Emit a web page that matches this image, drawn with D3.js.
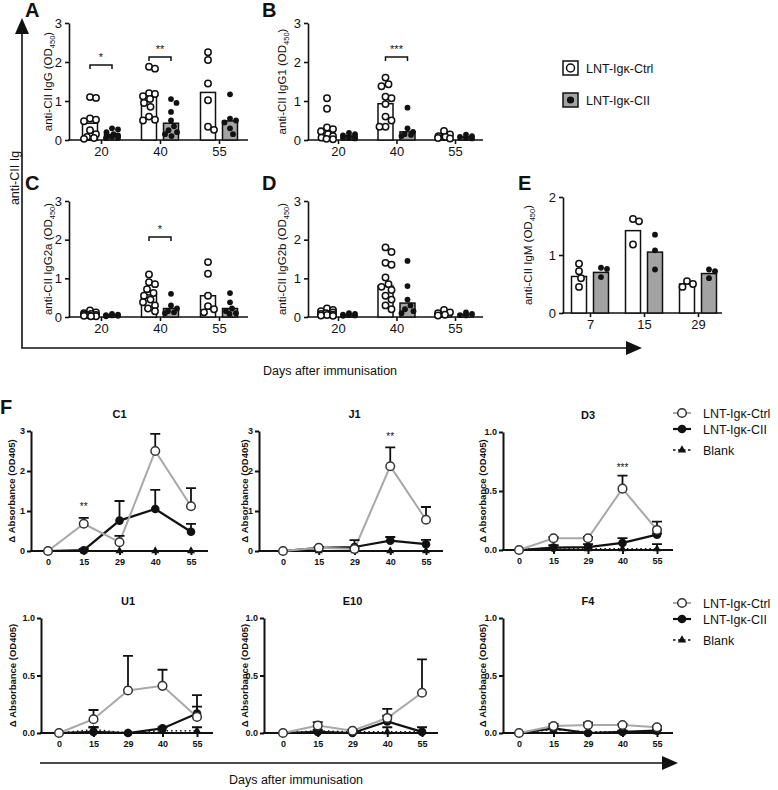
<!DOCTYPE html>
<html><head><meta charset="utf-8">
<script src="https://cdn.jsdelivr.net/npm/d3@7"></script>
<style>
body{margin:0;background:#fff}
svg{display:block}
text{font-family:Arial,"Liberation Sans",sans-serif;fill:#111}
</style>
</head><body>
<svg id="c" width="778" height="790"></svg>
<script>
// ---------------- DATA ----------------
const groupsIg = ["20", "40", "55"];
const groupsIgM = ["7", "15", "29"];

const A_ctrlBars = [0.43, 1.11, 1.22];
const A_ciiBars = [0.14, 0.43, 0.49];
const A_ctrlPts = [[1.10,1.08,0.55,0.52,0.48,0.25,0.15,0.08,0.05,0.03],[1.88,1.83,1.20,1.18,1.12,1.05,0.95,0.85,0.60,0.52,0.50],[2.25,2.05,1.45,1.02,0.34,0.26]];
const A_ciiPts = [[0.30,0.27,0.20,0.15,0.12,0.10,0.08,0.06,0.05],[1.05,0.95,0.72,0.50,0.35,0.25,0.20,0.15,0.10],[1.17,0.55,0.50,0.45,0.30,0.15]];
const A_sig = [{g:"20", y:1.92, label:"*"}, {g:"40", y:2.13, label:"**"}];

const B_ctrlBars = [0.30, 0.93, 0.11];
const B_ciiBars = [0.10, 0.21, 0.08];
const B_ctrlPts = [[1.07,0.80,0.32,0.28,0.22,0.15,0.10,0.06,0.03,0.02],[1.60,1.43,1.38,1.11,1.07,0.92,0.60,0.50,0.34,0.34],[0.23,0.14,0.10,0.08,0.05,0.04]];
const B_ciiPts = [[0.18,0.15,0.12,0.10,0.08,0.06,0.05,0.04],[0.83,0.30,0.21,0.15,0.13,0.10],[0.14,0.10,0.08,0.05,0.04]];
const B_sig = [{g:"40", y:2.13, label:"***"}];

const C_ctrlBars = [0.07, 0.57, 0.55];
const C_ciiBars = [0.05, 0.22, 0.22];
const C_ctrlPts = [[0.17,0.12,0.10,0.08,0.06,0.05,0.04,0.03,0.02,0.02],[1.10,0.90,0.85,0.72,0.62,0.55,0.45,0.38,0.30,0.22,0.15],[1.42,1.12,0.55,0.28,0.20,0.12]];
const C_ciiPts = [[0.08,0.06,0.05,0.04,0.03,0.02],[0.60,0.30,0.22,0.15,0.12,0.10],[0.62,0.38,0.22,0.15,0.10,0.08]];
const C_sig = [{g:"40", y:2.07, label:"*"}];

const D_ctrlBars = [0.12, 0.80, 0.10];
const D_ciiBars = [0.06, 0.36, 0.07];
const D_ctrlPts = [[0.22,0.18,0.15,0.12,0.10,0.08,0.06,0.05,0.04,0.03],[1.80,1.68,1.40,1.35,1.02,0.85,0.78,0.70,0.55,0.45,0.30,0.20],[0.18,0.12,0.10,0.06,0.04]];
const D_ciiPts = [[0.10,0.08,0.06,0.05,0.04,0.03],[1.45,0.80,0.45,0.30,0.20,0.15,0.10],[0.12,0.08,0.05,0.04]];
const D_sig = [];

const E_ctrlBars = [0.63, 1.42, 0.50];
const E_ciiBars = [0.70, 1.05, 0.68];
const E_ctrlPts = [[0.85,0.72,0.60,0.45],[1.62,1.58,1.18],[0.55,0.50,0.45]];
const E_ciiPts = [[0.78,0.76,0.62],[1.35,1.08,0.75],[0.75,0.72,0.60]];
const E_sig = [];

const days = ["0", "15", "29", "40", "55"];

const C1_ctrl = [0, 0.68, 0.22, 2.50, 1.12];
const C1_ctrlErr = [0, 0.15, 0.16, 0.43, 0.45];
const C1_cii = [0, 0.02, 0.76, 1.05, 0.48];
const C1_ciiErr = [0, 0.03, 0.49, 0.48, 0.20];
const C1_blank = [0, 0, 0, 0, 0];
const C1_blankErr = [0, 0, 0, 0, 0];
const C1_sig = [{d:"15", y:1.12, label:"**"}];

const J1_ctrl = [0, 0.08, 0.05, 2.12, 0.78];
const J1_ctrlErr = [0, 0.02, 0.02, 0.47, 0.32];
const J1_cii = [0, 0.08, 0.10, 0.26, 0.17];
const J1_ciiErr = [0, 0.02, 0.17, 0.09, 0.11];
const J1_blank = [0, 0, 0, 0, 0];
const J1_blankErr = [0, 0, 0, 0, 0];
const J1_sig = [{d:"40", y:2.88, label:"**"}];

const D3_ctrl = [0, 0.10, 0.10, 0.52, 0.17];
const D3_ctrlErr = [0, 0.01, 0.01, 0.11, 0.07];
const D3_cii = [0, 0.02, 0.025, 0.06, 0.13];
const D3_ciiErr = [0, 0.02, 0.025, 0.04, 0.01];
const D3_blank = [0, 0.02, 0.01, 0.01, 0.01];
const D3_blankErr = [0, 0.02, 0, 0, 0.04];
const D3_sig = [{d:"40", y:0.70, label:"***"}];

const U1_ctrl = [0, 0.12, 0.37, 0.41, 0.14];
const U1_ctrlErr = [0, 0.08, 0.30, 0.14, 0.09];
const U1_cii = [0, 0.01, 0, 0.04, 0.17];
const U1_ciiErr = [0, 0.04, 0, 0.01, 0.16];
const U1_blank = [0, 0.03, 0, 0.02, 0.02];
const U1_blankErr = [0, 0.02, 0, 0, 0.03];
const U1_sig = [];

const E10_ctrl = [0, 0.065, 0.02, 0.13, 0.35];
const E10_ctrlErr = [0, 0.03, 0.01, 0.08, 0.29];
const E10_cii = [0, 0.01, 0, 0.10, 0.01];
const E10_ciiErr = [0, 0.01, 0, 0.05, 0.04];
const E10_blank = [0, 0.02, 0.01, 0.01, 0.01];
const E10_blankErr = [0, 0.01, 0, 0.04, 0];
const E10_sig = [];

const F4_ctrl = [0, 0.06, 0.07, 0.07, 0.05];
const F4_ctrlErr = [0, 0.02, 0.02, 0.01, 0.01];
const F4_cii = [0, 0.04, 0, 0.01, 0.02];
const F4_ciiErr = [0, 0.02, 0, 0.01, 0.01];
const F4_blank = [0, 0.03, 0.01, 0.01, 0.01];
const F4_blankErr = [0, 0.01, 0, 0.01, 0.02];
const F4_sig = [];

const seriesNames = ["LNT-Igκ-Ctrl", "LNT-Igκ-CII", "Blank"];

// ---------------- DRAWING ----------------
const svg = d3.select("#c");
svg.append("rect").attr("width", 778).attr("height", 790).attr("fill", "#fff");

const GRAY = "#a3a3a3";
const LINEGRAY = "#a8a8a8";

function dodge(vals, y, r, maxOff) {
  const pts = vals.map(v => ({v, y: y(v)})).sort((a, b) => b.v - a.v);
  const placed = [];
  const offs = [0];
  for (let k = 1; k * 0.5 <= maxOff; k++) offs.push(k * 0.5, -k * 0.5);
  for (const p of pts) {
    let best = 0, bestOv = Infinity;
    for (const o of offs) {
      let ov = 0;
      for (const q of placed) {
        const d = Math.hypot(q.x - o, q.y - p.y);
        if (d < 2 * r) ov += 2 * r - d;
      }
      if (ov === 0) { best = o; bestOv = 0; break; }
      if (ov < bestOv) { bestOv = ov; best = o; }
    }
    p.x = best;
    placed.push(p);
  }
  return pts;
}

function barPanel(cfg) {
  const g = svg.append("g");
  const y = d3.scaleLinear().domain([0, cfg.ymax]).range([cfg.yb, cfg.yt]);
  const x = d3.scalePoint().domain(cfg.groups).range([cfg.cx0, cfg.cx1]);
  // letter
  g.append("text").attr("x", cfg.lx).attr("y", cfg.ly).attr("font-size", 20).attr("font-weight", "bold").text(cfg.letter);
  // y label
  const yl = g.append("text").attr("transform", `translate(${cfg.ylabX},${(cfg.yt + cfg.yb) / 2}) rotate(-90)`)
    .attr("text-anchor", "middle").attr("font-size", 11.5);
  yl.append("tspan").text(cfg.ylab + " (OD");
  yl.append("tspan").attr("font-size", 7.5).attr("dy", 3).text("450");
  yl.append("tspan").attr("dy", -3).text(")");
  // y axis
  const ya = g.append("g").attr("transform", `translate(${cfg.axisX},0)`)
    .call(d3.axisLeft(y).tickValues(cfg.ticks).tickFormat(d3.format("d")).tickSize(4).tickSizeOuter(0).tickPadding(3));
  ya.selectAll("path,line").attr("stroke", "#111").attr("stroke-width", 1.6);
  ya.selectAll("text").attr("font-size", 13).attr("fill", "#111").attr("font-family", "Arial, Liberation Sans, sans-serif");
  // x axis
  g.append("line").attr("x1", cfg.axisX - 0.8).attr("x2", cfg.xEnd).attr("y1", cfg.yb).attr("y2", cfg.yb).attr("stroke", "#111").attr("stroke-width", 1.6);
  const xa = g.append("g").attr("transform", `translate(0,${cfg.yb})`)
    .call(d3.axisBottom(x).tickSize(4).tickSizeOuter(0).tickPadding(3));
  xa.select(".domain").remove();
  xa.selectAll("line").attr("stroke", "#111").attr("stroke-width", 1.6);
  xa.selectAll("text").attr("font-size", 13).attr("fill", "#111").attr("font-family", "Arial, Liberation Sans, sans-serif");
  const bw = 15, off = 11;
  // bars
  cfg.groups.forEach((grp, i) => {
    const c = x(grp);
    g.append("rect").attr("x", c - off - bw / 2).attr("width", bw)
      .attr("y", y(cfg.ctrlBars[i])).attr("height", cfg.yb - y(cfg.ctrlBars[i]))
      .attr("fill", "#fff").attr("stroke", "#111").attr("stroke-width", 1.5);
    g.append("rect").attr("x", c + off - bw / 2).attr("width", bw)
      .attr("y", y(cfg.ciiBars[i])).attr("height", cfg.yb - y(cfg.ciiBars[i]))
      .attr("fill", GRAY).attr("stroke", "#111").attr("stroke-width", 1.5);
    dodge(cfg.ctrlPts[i], y, 3.6, 6).forEach(p => {
      g.append("circle").attr("cx", c - off + p.x).attr("cy", p.y).attr("r", 3.2)
        .attr("fill", "#fff").attr("stroke", "#111").attr("stroke-width", 1.5);
    });
    dodge(cfg.ciiPts[i], y, 3.2, 6).forEach(p => {
      g.append("circle").attr("cx", c + off + p.x).attr("cy", p.y).attr("r", 2.9).attr("fill", "#111");
    });
  });
  // significance
  cfg.sig.forEach(s => {
    const c = x(s.g), yy = y(s.y);
    g.append("path").attr("d", `M${c - off},${yy + 4}V${yy}H${c + off}V${yy + 4}`)
      .attr("fill", "none").attr("stroke", "#111").attr("stroke-width", 1.5);
    g.append("text").attr("x", c).attr("y", yy - 4).attr("text-anchor", "middle").attr("font-size", 11).text(s.label);
  });
}

barPanel({letter:"A", lx:25, ly:17, ylab:"anti-CII IgG", ylabX:52, axisX:69, xEnd:248, yt:23, yb:140, ymax:3, ticks:[0,1,2,3],
  groups:groupsIg, cx0:101, cx1:219, ctrlBars:A_ctrlBars, ciiBars:A_ciiBars, ctrlPts:A_ctrlPts, ciiPts:A_ciiPts, sig:A_sig});
barPanel({letter:"B", lx:262, ly:17, ylab:"anti-CII IgG1", ylabX:286, axisX:308, xEnd:483, yt:23, yb:140, ymax:3, ticks:[0,1,2,3],
  groups:groupsIg, cx0:338, cx1:455, ctrlBars:B_ctrlBars, ciiBars:B_ciiBars, ctrlPts:B_ctrlPts, ciiPts:B_ciiPts, sig:B_sig});
barPanel({letter:"C", lx:25, ly:190, ylab:"anti-CII IgG2a", ylabX:52, axisX:69, xEnd:248, yt:201, yb:317, ymax:3, ticks:[0,1,2,3],
  groups:groupsIg, cx0:101, cx1:219, ctrlBars:C_ctrlBars, ciiBars:C_ciiBars, ctrlPts:C_ctrlPts, ciiPts:C_ciiPts, sig:C_sig});
barPanel({letter:"D", lx:262, ly:190, ylab:"anti-CII IgG2b", ylabX:286, axisX:308, xEnd:483, yt:201, yb:317, ymax:3, ticks:[0,1,2,3],
  groups:groupsIg, cx0:338, cx1:455, ctrlBars:D_ctrlBars, ciiBars:D_ciiBars, ctrlPts:D_ctrlPts, ciiPts:D_ciiPts, sig:D_sig});
barPanel({letter:"E", lx:518, ly:190, ylab:"anti-CII IgM", ylabX:532, axisX:563, xEnd:722, yt:197, yb:313, ymax:2, ticks:[0,1,2],
  groups:groupsIgM, cx0:590, cx1:698, ctrlBars:E_ctrlBars, ciiBars:E_ciiBars, ctrlPts:E_ctrlPts, ciiPts:E_ciiPts, sig:E_sig});

// top legend
[[0, "#fff"], [1, GRAY]].forEach(([i, fill]) => {
  const yy = 61 + i * 32;
  svg.append("rect").attr("x", 563).attr("y", yy).attr("width", 15).attr("height", 14).attr("fill", fill).attr("stroke", "#111").attr("stroke-width", 1.5);
  if (i === 0) svg.append("circle").attr("cx", 570.5).attr("cy", yy + 7).attr("r", 4).attr("fill", "#fff").attr("stroke", "#111").attr("stroke-width", 1.5);
  else svg.append("circle").attr("cx", 570.5).attr("cy", yy + 7).attr("r", 3.6).attr("fill", "#111");
  svg.append("text").attr("x", 586).attr("y", yy + 11.5).attr("font-size", 12.5).text(seriesNames[i]);
});

// big top arrows
function arrowHead(x, y, dir) {
  // dir: 'up' or 'right'
  const p = dir === "up" ? `M${x},${y}L${x - 7},${y + 16}L${x + 7},${y + 16}Z` : `M${x},${y}L${x - 16},${y - 7}L${x - 16},${y + 7}Z`;
  svg.append("path").attr("d", p).attr("fill", "#111");
}
svg.append("path").attr("d", "M22,348V30").attr("stroke", "#111").attr("stroke-width", 1.6).attr("fill", "none");
arrowHead(22, 18, "up");
svg.append("path").attr("d", "M21.2,348H630").attr("stroke", "#111").attr("stroke-width", 1.6);
arrowHead(642, 348, "right");
svg.append("text").attr("transform", "translate(19,178) rotate(-90)").attr("text-anchor", "middle").attr("font-size", 12.5).text("anti-CII Ig");
svg.append("text").attr("x", 330).attr("y", 375).attr("text-anchor", "middle").attr("font-size", 12.5).text("Days after immunisation");

// ---------------- F panels ----------------
svg.append("text").attr("x", 0).attr("y", 414).attr("font-size", 20).attr("font-weight", "bold").text("F");

function linePanel(cfg) {
  const g = svg.append("g");
  const y = d3.scaleLinear().domain([0, cfg.ymax]).range([cfg.yb, cfg.yt]);
  const x = d3.scalePoint().domain(days).range([cfg.cx0, cfg.cx1]);
  g.append("text").attr("x", (cfg.cx0 + cfg.cx1) / 2).attr("y", cfg.yt - 13).attr("text-anchor", "middle")
    .attr("font-size", 11).attr("font-weight", "bold").text(cfg.title);
  g.append("text").attr("transform", `translate(${cfg.ylabX},${(cfg.yt + cfg.yb) / 2}) rotate(-90)`)
    .attr("text-anchor", "middle").attr("font-size", 9.5).attr("font-weight", "bold").text("Δ Absorbance (OD405)");
  const ya = g.append("g").attr("transform", `translate(${cfg.axisX},0)`)
    .call(d3.axisLeft(y).tickValues(cfg.ticks).tickFormat(cfg.fmt).tickSize(4).tickSizeOuter(0).tickPadding(2));
  ya.selectAll("path,line").attr("stroke", "#111").attr("stroke-width", 2);
  ya.selectAll("text").attr("font-size", 9).attr("font-weight", "bold").attr("fill", "#111").attr("font-family", "Arial, Liberation Sans, sans-serif");
  g.append("line").attr("x1", cfg.axisX - 1).attr("x2", cfg.xEnd).attr("y1", cfg.yb).attr("y2", cfg.yb).attr("stroke", "#111").attr("stroke-width", 2.2);
  const xa = g.append("g").attr("transform", `translate(0,${cfg.yb})`)
    .call(d3.axisBottom(x).tickSize(4).tickSizeOuter(0).tickPadding(4));
  xa.select(".domain").remove();
  xa.selectAll("line").attr("stroke", "#111").attr("stroke-width", 2);
  xa.selectAll("text").attr("font-size", 9).attr("font-weight", "bold").attr("fill", "#111").attr("font-family", "Arial, Liberation Sans, sans-serif");

  const line = d3.line().x((d, i) => x(days[i])).y(d => y(d));
  g.append("path").datum(cfg.blank).attr("d", line).attr("fill", "none").attr("stroke", "#111").attr("stroke-width", 1.5).attr("stroke-dasharray", "1.5,3");
  g.append("path").datum(cfg.cii).attr("d", line).attr("fill", "none").attr("stroke", "#111").attr("stroke-width", 2.2);
  g.append("path").datum(cfg.ctrl).attr("d", line).attr("fill", "none").attr("stroke", LINEGRAY).attr("stroke-width", 2);
  // error bars
  [[cfg.blank, cfg.blankErr], [cfg.cii, cfg.ciiErr], [cfg.ctrl, cfg.ctrlErr]].forEach(([v, e]) => {
    v.forEach((val, i) => {
      if (!e[i]) return;
      const cx = x(days[i]), y0 = y(val), y1 = y(val + e[i]);
      g.append("path").attr("d", `M${cx},${y0}V${y1}M${cx - 5},${y1}H${cx + 5}`).attr("stroke", "#111").attr("stroke-width", 1.8).attr("fill", "none");
    });
  });
  // markers
  cfg.blank.forEach((val, i) => {
    g.append("path").attr("d", d3.symbol(d3.symbolTriangle, 28)()).attr("transform", `translate(${x(days[i])},${y(val)})`).attr("fill", "#111");
  });
  cfg.cii.forEach((val, i) => {
    g.append("circle").attr("cx", x(days[i])).attr("cy", y(val)).attr("r", 4.3).attr("fill", "#111");
  });
  cfg.ctrl.forEach((val, i) => {
    g.append("circle").attr("cx", x(days[i])).attr("cy", y(val)).attr("r", 4.3).attr("fill", "#fff").attr("stroke", "#333").attr("stroke-width", 1.5);
  });
  cfg.sig.forEach(s => {
    g.append("text").attr("x", x(s.d)).attr("y", y(s.y) + 4).attr("text-anchor", "middle").attr("font-size", 10).text(s.label);
  });
}

const f1 = d3.format("d"), f2 = d3.format(".1f");
linePanel({title:"C1", axisX:31, cx0:48, cx1:191, xEnd:208, yt:431, yb:551, ymax:3, ticks:[0,1,2,3], fmt:f1, ylabX:15,
  ctrl:C1_ctrl, ctrlErr:C1_ctrlErr, cii:C1_cii, ciiErr:C1_ciiErr, blank:C1_blank, blankErr:C1_blankErr, sig:C1_sig});
linePanel({title:"J1", axisX:259, cx0:283, cx1:426, xEnd:443, yt:431, yb:551, ymax:3, ticks:[0,1,2,3], fmt:f1, ylabX:248,
  ctrl:J1_ctrl, ctrlErr:J1_ctrlErr, cii:J1_cii, ciiErr:J1_ciiErr, blank:J1_blank, blankErr:J1_blankErr, sig:J1_sig});
linePanel({title:"D3", axisX:503, cx0:519, cx1:657, xEnd:673, yt:432, yb:550, ymax:1, ticks:[0,0.5,1], fmt:f2, ylabX:486,
  ctrl:D3_ctrl, ctrlErr:D3_ctrlErr, cii:D3_cii, ciiErr:D3_ciiErr, blank:D3_blank, blankErr:D3_blankErr, sig:D3_sig});
linePanel({title:"U1", axisX:41, cx0:59, cx1:197, xEnd:213, yt:618, yb:733, ymax:1, ticks:[0,0.5,1], fmt:f2, ylabX:16,
  ctrl:U1_ctrl, ctrlErr:U1_ctrlErr, cii:U1_cii, ciiErr:U1_ciiErr, blank:U1_blank, blankErr:U1_blankErr, sig:U1_sig});
linePanel({title:"E10", axisX:264, cx0:283, cx1:422, xEnd:438, yt:618, yb:733, ymax:1, ticks:[0,0.5,1], fmt:f2, ylabX:248,
  ctrl:E10_ctrl, ctrlErr:E10_ctrlErr, cii:E10_cii, ciiErr:E10_ciiErr, blank:E10_blank, blankErr:E10_blankErr, sig:E10_sig});
linePanel({title:"F4", axisX:503, cx0:519, cx1:657, xEnd:673, yt:618, yb:733, ymax:1, ticks:[0,0.5,1], fmt:f2, ylabX:486,
  ctrl:F4_ctrl, ctrlErr:F4_ctrlErr, cii:F4_cii, ciiErr:F4_ciiErr, blank:F4_blank, blankErr:F4_blankErr, sig:F4_sig});

// F legends
function fLegend(y0) {
  const ys = [y0, y0 + 16, y0 + 37];
  svg.append("line").attr("x1", 673).attr("x2", 691).attr("y1", ys[0]).attr("y2", ys[0]).attr("stroke", LINEGRAY).attr("stroke-width", 2);
  svg.append("circle").attr("cx", 682).attr("cy", ys[0]).attr("r", 4.3).attr("fill", "#fff").attr("stroke", "#333").attr("stroke-width", 1.5);
  svg.append("line").attr("x1", 673).attr("x2", 691).attr("y1", ys[1]).attr("y2", ys[1]).attr("stroke", "#111").attr("stroke-width", 2.2);
  svg.append("circle").attr("cx", 682).attr("cy", ys[1]).attr("r", 4.3).attr("fill", "#111");
  svg.append("line").attr("x1", 673).attr("x2", 691).attr("y1", ys[2]).attr("y2", ys[2]).attr("stroke", "#111").attr("stroke-width", 1.5).attr("stroke-dasharray", "2.5,2.5");
  svg.append("path").attr("d", d3.symbol(d3.symbolTriangle, 30)()).attr("transform", `translate(682,${ys[2]})`).attr("fill", "#111");
  ys.forEach((yy, i) => svg.append("text").attr("x", 703).attr("y", yy + 4.5).attr("font-size", 12.5).text(seriesNames[i]));
}
fLegend(413);
fLegend(603);

// bottom arrow
svg.append("path").attr("d", "M40,763H664").attr("stroke", "#111").attr("stroke-width", 1.6);
arrowHead(678, 763, "right");
svg.append("text").attr("x", 296).attr("y", 784).attr("text-anchor", "middle").attr("font-size", 12.5).text("Days after immunisation");
</script>
</body></html>
